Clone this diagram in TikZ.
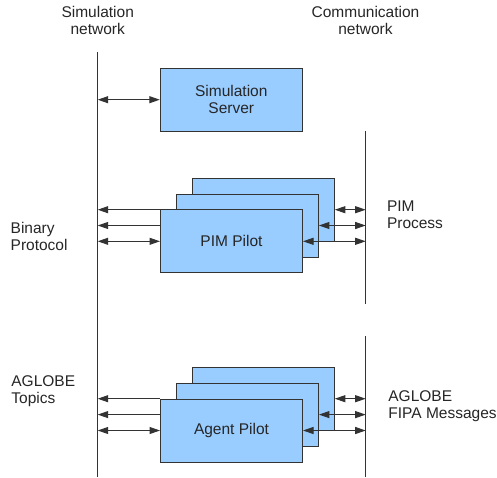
\documentclass[tikz,border=0pt]{standalone}
\usepackage{fontspec}
\setmainfont{Liberation Sans}
\usetikzlibrary{arrows.meta}
\definecolor{boxblue}{HTML}{99CCFF}
\definecolor{edgegray}{HTML}{333333}
\definecolor{linkgray}{HTML}{333333}
\begin{document}
\begin{tikzpicture}[x=1pt,y=-1pt,
  >={Triangle[length=10.5pt,width=7pt]},
  box/.style={draw=edgegray,fill=boxblue,line width=1pt,minimum width=142pt,minimum height=63pt,inner sep=0pt,align=center,font=\fontsize{15.5}{17}\selectfont,text=black!85},
  netline/.style={draw=black!80,line width=1pt},
  link/.style={draw=linkgray,line width=1pt},
  lbl/.style={inner sep=0pt,font=\fontsize{15.5}{16.7}\selectfont,text=black!85}
]
\useasboundingbox (0,0) rectangle (497,477);

% network lines
\coordinate (sTop) at (97.7,52);
\coordinate (sBot) at (97.7,477);
\coordinate (c1Top) at (365.7,131);
\coordinate (c1Bot) at (365.7,304);
\coordinate (c2Top) at (365.7,336);
\coordinate (c2Bot) at (365.7,477);
\draw[netline] (sTop) -- (sBot);
\draw[netline] (c1Top) -- (c1Bot);
\draw[netline] (c2Top) -- (c2Bot);

% labels
\node[lbl,anchor=north,align=center] (simnet) at (97.7,6.5) {Simulation\\network};
\node[lbl,anchor=north,align=center] (comnet) at (365.5,6.5) {Communication\\network};
\node[lbl,anchor=north west,align=left] (binprot) at (10.5,222.5) {Binary\\Protocol};
\node[lbl,anchor=north west,align=left] (agtop) at (11.2,375.8) {AGLOBE\\Topics};
\node[lbl,anchor=north west,align=left] (pimproc) at (386.8,200.8) {PIM\\Process};
\node[lbl,anchor=north west,align=left] (fipa) at (388.2,390.8) {AGLOBE\\FIPA Messages};

% simulation server
\node[box] (server) at (231.3,99.7) {Simulation\\Server};
\draw[link,<->] (sTop |- server.west) -- (server.west);

% PIM pilot stack
\node[box] (pimB) at (263.3,209.7) {};
\node[box] (pimM) at (247.4,225.5) {};
\node[box] (pimF) at (231.5,241.3) {PIM Pilot};
\draw[link,<-] (sTop |- pimB.center) -- (pimF.west |- pimB.center);
\draw[link,<-] (sTop |- pimM.center) -- (pimF.west |- pimM.center);
\draw[link,<->] (sTop |- pimF.center) -- (pimF.west);
\draw[link,<->] (pimB.east) -- (c1Top |- pimB.east);
\draw[link,<->] (pimM.east) -- (c1Top |- pimM.east);
\draw[link,<->] (pimF.east) -- (c1Top |- pimF.east);

% Agent pilot stack
\node[box] (agB) at (263.3,398.7) {};
\node[box] (agM) at (247.4,414.6) {};
\node[box] (agF) at (231.5,430.5) {Agent Pilot};
\draw[link,<-] (sTop |- agB.center) -- (agF.west |- agB.center);
\draw[link,<-] (sTop |- agM.center) -- (agF.west |- agM.center);
\draw[link,<->] (sTop |- agF.center) -- (agF.west);
\draw[link,<->] (agB.east) -- (c2Top |- agB.east);
\draw[link,<->] (agM.east) -- (c2Top |- agM.east);
\draw[link,<->] (agF.east) -- (c2Top |- agF.east);
\end{tikzpicture}
\end{document}
